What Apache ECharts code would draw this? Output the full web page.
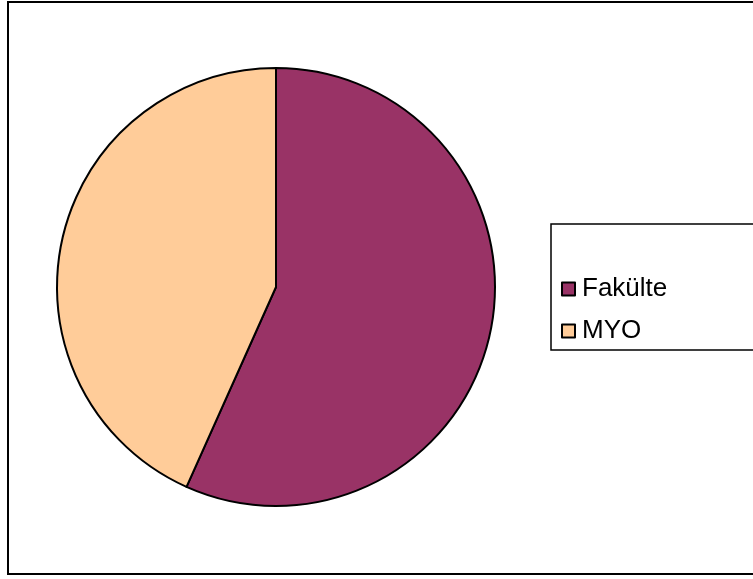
<!DOCTYPE html>
<html>
<head>
<meta charset="utf-8">
<script src="https://cdn.jsdelivr.net/npm/echarts@6/dist/echarts.min.js"></script>
<style>
html,body{margin:0;padding:0;background:#fff;}
#chart{width:753px;height:579px;}
</style>
</head>
<body>
<div id="chart"></div>
<script>
const categories = ['Fakülte', 'MYO'];
const values = [56.7, 43.3];
const colors = ['#993366', '#FFCC99'];

const chart = echarts.init(document.getElementById('chart'), null, {renderer: 'canvas'});
chart.setOption({
  backgroundColor: '#fff',
  animation: false,
  graphic: [
    {type: 'rect', shape: {x: 8, y: 2, width: 760, height: 572}, style: {fill: 'none', stroke: '#000', lineWidth: 2}, z: 0},
    {type: 'rect', shape: {x: 551, y: 224, width: 220, height: 126}, style: {fill: '#fff', stroke: '#000', lineWidth: 1.5}, z: 0}
  ],
  legend: {
    orient: 'vertical',
    left: 561,
    top: 276,
    padding: 0,
    itemWidth: 13,
    itemHeight: 13,
    itemGap: 16,
    icon: 'rect',
    itemStyle: {borderColor: '#000', borderWidth: 2},
    textStyle: {fontFamily: 'Liberation Sans', fontSize: 26, lineHeight: 26, color: '#000', padding: [0, 0, 0, 2]},
    data: categories
  },
  series: [{
    type: 'pie',
    center: [276, 287],
    radius: 219,
    startAngle: 90,
    clockwise: true,
    label: {show: false},
    labelLine: {show: false},
    emphasis: {disabled: true},
    itemStyle: {borderColor: '#000', borderWidth: 2},
    data: categories.map((c, i) => ({name: c, value: values[i], itemStyle: {color: colors[i]}}))
  }]
});
</script>
</body>
</html>
